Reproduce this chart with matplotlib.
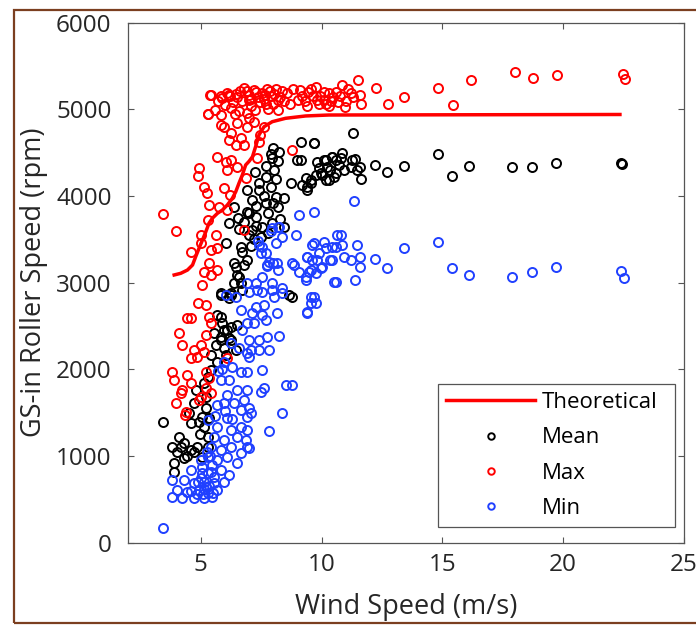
import matplotlib
matplotlib.use('Agg')
import matplotlib.pyplot as plt
from matplotlib.patches import Rectangle

plt.rcParams['font.family'] = ['Open Sans', 'DejaVu Sans']

# theoretical curve
theo_ws = [3.90, 4.17, 4.45, 4.66, 4.79, 4.93, 5.07, 5.21, 5.34, 5.48, 5.69, 5.90, 6.10, 6.31,
           6.45, 6.58, 6.72, 6.86, 7.00, 7.14, 7.27, 7.41, 7.62, 7.96, 8.51, 9.34, 10.3, 22.35]
theo_rpm = [3089, 3108, 3146, 3204, 3300, 3397, 3492, 3588, 3685, 3743, 3800, 3839, 3896, 3974,
            4050, 4146, 4242, 4358, 4400, 4453, 4569, 4704, 4799, 4857, 4896, 4923, 4934, 4940]

# mean speed
mean_ws = [3.42, 3.83, 3.90, 3.90, 4.10, 4.31, 4.31, 4.52, 4.59, 4.59, 4.72, 4.79, 4.86, 4.93,
           5.07, 5.14, 5.14, 5.21, 5.28, 5.28, 5.28, 5.34, 5.41, 5.41, 5.55, 5.62, 5.69, 5.69,
           5.83, 5.83, 5.83, 5.83, 5.83, 5.90, 5.96, 5.96, 6.03, 6.10, 6.17, 6.17, 6.24, 6.24,
           6.24, 6.24, 6.38, 6.38, 6.45, 6.45, 6.52, 6.52, 6.58, 6.65, 6.65, 6.72, 6.79, 6.03,
           6.17, 6.38, 6.93, 6.93, 6.93, 7.00, 7.14, 7.14, 7.27, 7.41, 7.55, 7.69, 7.69, 7.96,
           7.96, 8.10, 8.24, 8.44, 8.44, 8.65, 8.72, 8.79, 9.00, 9.13, 9.68, 6.55, 6.60, 6.70,
           6.80, 7.00, 7.10, 7.20, 7.25, 7.30, 7.30, 7.40, 7.50, 7.60, 7.70, 7.80, 7.80, 7.90,
           7.90, 8.00, 8.00, 8.05, 8.10, 8.20, 8.20, 8.30, 9.13, 9.20, 9.34, 9.41, 9.41, 9.55,
           9.55, 9.68, 9.75, 9.82, 9.89, 9.96, 10.03, 10.10, 10.17, 10.17, 10.24, 10.30, 10.37,
           10.44, 10.44, 10.51, 10.58, 10.58, 10.72, 10.79, 10.86, 10.92, 11.20, 11.27, 11.40,
           11.48, 11.61, 11.64, 11.30, 12.2, 12.7, 13.4, 14.8, 15.4, 16.1, 17.9, 18.7, 19.7,
           22.4, 22.45, 4.00, 4.20, 4.45, 4.70, 4.95, 5.05, 5.20]
mean_rpm = [1397, 1108, 917, 820, 1224, 1148, 975, 1494, 1378, 1070, 1609, 1762, 1108, 1397,
            993, 1840, 1339, 1685, 1916, 1224, 1108, 1436, 2166, 1993, 2416, 2281, 2627, 2089,
            2858, 2377, 2878, 2608, 2339, 2532, 2243, 2454, 2166, 2454, 2820, 2358, 2339, 2878,
            2858, 2493, 2993, 3224, 3185, 2224, 3089, 2512, 3069, 3415, 2993, 2916, 3204, 3454,
            3685, 3877, 4069, 3819, 3262, 3800, 3954, 3608, 3761, 4069, 3646, 4223, 3916, 4435,
            3685, 3992, 4511, 3973, 3646, 2858, 4146, 2839, 4415, 4626, 4615, 3750, 3620, 3350,
            3700, 3550, 3420, 3500, 4280, 3880, 3650, 4150, 3530, 4000, 4350, 3800, 3570, 4100,
            4490, 3920, 4550, 4300, 4200, 3870, 4400, 3730, 4415, 4127, 4204, 4069, 4107, 4146,
            4185, 4608, 4242, 4396, 4319, 4262, 4242, 4415, 4185, 4415, 4338, 4185, 4300, 4453,
            4453, 4223, 4415, 4262, 4358, 4435, 4492, 4300, 4338, 4415, 4430, 4300, 4331, 4193,
            4728, 4358, 4277, 4347, 4485, 4231, 4347, 4335, 4335, 4381, 4381, 4370,
            1050, 1100, 1000, 1050, 1250, 1450, 1550]

# maximum speed
max_ws = [3.42, 3.83, 3.90, 3.97, 3.97, 4.10, 4.17, 4.24, 4.24, 4.35, 4.38, 4.45, 4.45, 4.59,
          4.59, 4.59, 4.59, 4.72, 4.86, 4.89, 4.89, 4.93, 4.93, 5.00, 5.00, 5.00, 5.00, 5.07,
          5.14, 5.14, 5.14, 5.21, 5.21, 5.21, 5.21, 5.25, 5.28, 5.28, 5.34, 5.34, 5.34, 5.34,
          5.41, 5.41, 5.41, 5.41, 5.62, 5.66, 5.69, 5.69, 5.76, 5.83, 5.83, 5.96, 5.96, 6.03,
          6.10, 6.10, 6.10, 6.17, 6.17, 6.21, 6.24, 6.24, 6.45, 6.52, 6.52, 6.65, 6.79, 6.79,
          6.86, 6.93, 7.00, 7.20, 7.34, 7.41, 7.45, 7.60, 8.79, 5.28, 5.37, 5.41, 5.60, 5.70,
          5.83, 5.90, 6.00, 6.07, 6.17, 6.20, 6.25, 6.34, 6.40, 6.45, 6.50, 6.60, 6.62, 6.70,
          6.80, 6.90, 6.90, 6.99, 7.00, 7.10, 7.10, 7.20, 7.26, 7.30, 7.36, 7.45, 7.54, 7.60,
          7.65, 7.70, 7.73, 7.80, 7.85, 7.91, 8.00, 8.05, 8.10, 8.19, 8.19, 8.30, 8.37, 8.45,
          8.55, 8.70, 8.83, 9.01, 9.10, 9.20, 9.30, 9.38, 9.45, 9.57, 9.66, 9.75, 9.80, 9.90,
          9.94, 10.10, 10.12, 10.20, 10.30, 10.30, 10.40, 10.49, 10.60, 10.67, 10.75, 10.86,
          10.95, 11.00, 11.10, 11.22, 11.30, 11.50, 11.59, 11.62, 12.24, 12.73, 13.43, 14.82,
          15.42, 16.20, 18.0, 18.76, 19.73, 22.46, 22.55]
max_rpm = [3792, 1974, 1878, 3600, 1609, 2423, 1724, 2281, 1762, 1471, 1512, 1935, 2590, 2592,
           2128, 1840, 3358, 2224, 2147, 2762, 4231, 4319, 1647, 2281, 1685, 3550, 3454, 2973,
           2204, 4107, 3127, 2743, 2397, 1974, 1780, 4031, 4946, 3723, 2608, 1897, 3896, 3224,
           2532, 1724, 3377, 3089, 3550, 4453, 3397, 3146, 3877, 4934, 4819, 4799, 4089, 4396,
           4300, 3839, 2128, 4646, 5165, 4011, 4723, 4415, 4588, 4846, 4331, 4666, 4588, 3608,
           4204, 4792, 4900, 4850, 4435, 4626, 4700, 4790, 4531, 4946, 5168, 5165, 4990, 5100,
           5159, 5127, 5050, 5183, 5165, 5150, 5019, 5089, 4950, 5180, 5136, 4980, 5206, 5100,
           5240, 5206, 4960, 5112, 5170, 5042, 5120, 5220, 4996, 5200, 5136, 5080, 5183, 5120,
           5170, 5060, 5229, 5000, 5210, 5159, 5066, 5180, 5230, 5112, 4996, 5140, 5206, 5100,
           5183, 5060, 5229, 5112, 5220, 5159, 5100, 5042, 5200, 5229, 5159, 5253, 5112, 5060,
           5159, 5200, 5112, 5060, 5183, 5040, 5100, 5136, 5200, 5089, 5150, 5276, 5029, 5100,
           5230, 5183, 5136, 5336, 5168, 5066, 5243, 5057, 5136, 5243, 5052, 5336, 5430, 5365,
           5393, 5402, 5355]

# minimum speed
min_ws = [3.42, 3.83, 3.83, 4.03, 4.24, 4.31, 4.45, 4.59, 4.60, 4.72, 4.72, 4.85, 4.90, 4.93,
          5.00, 5.00, 5.05, 5.07, 5.10, 5.14, 5.14, 5.15, 5.20, 5.25, 5.28, 5.28, 5.28, 5.30,
          5.35, 5.40, 5.41, 5.41, 5.45, 5.48, 5.50, 5.55, 5.55, 5.55, 5.60, 5.69, 5.69, 5.69,
          5.69, 5.70, 5.83, 5.83, 5.83, 5.90, 5.96, 5.96, 5.96, 5.96, 6.00, 6.03, 6.10, 6.10,
          6.10, 6.17, 6.17, 6.24, 6.24, 6.24, 6.30, 6.31, 6.38, 6.45, 6.52, 6.52, 6.52, 6.58,
          6.65, 6.65, 6.65, 6.65, 6.65, 6.72, 6.79, 6.86, 6.93, 6.93, 6.93, 6.93, 6.93, 6.93,
          6.93, 6.93, 7.00, 7.00, 7.00, 7.00, 7.00, 7.07, 7.07, 7.14, 7.20, 7.27, 7.27, 7.34,
          7.36, 7.41, 7.41, 7.41, 7.48, 7.48, 7.54, 7.55, 7.55, 7.55, 7.55, 7.62, 7.62, 7.69,
          7.69, 7.73, 7.76, 7.76, 7.82, 7.82, 7.82, 7.91, 7.96, 7.96, 7.96, 8.00, 8.03, 8.10,
          8.17, 8.17, 8.19, 8.19, 8.24, 8.24, 8.37, 8.38, 8.38, 8.38, 8.51, 8.79, 8.79, 8.86,
          8.93, 9.06, 9.06, 9.34, 9.34, 9.41, 9.41, 9.41, 9.41, 9.48, 9.55, 9.55, 9.55, 9.62,
          9.62, 9.68, 9.68, 9.68, 9.75, 9.75, 9.82, 9.89, 9.96, 10.03, 10.10, 10.17, 10.37,
          10.44, 10.44, 10.51, 10.58, 10.58, 10.65, 10.79, 10.86, 10.92, 11.20, 11.33, 11.40,
          11.48, 11.58, 11.61, 12.2, 12.7, 13.4, 14.8, 15.4, 16.1, 17.9, 18.7, 19.7, 22.4, 22.5]
min_rpm = [167, 724, 532, 609, 513, 724, 589, 840, 600, 686, 513, 560, 700, 609,
           750, 950, 800, 878, 560, 705, 513, 620, 640, 1050, 1416, 993, 571, 800,
           660, 1000, 820, 1108, 900, 532, 580, 1224, 686, 760, 1460, 1589, 1339, 955,
           609, 1980, 1878, 1070, 840, 2000, 2089, 1609, 1186, 705, 1520, 2858, 1436, 993,
           1700, 1878, 782, 2301, 1301, 1108, 1430, 2031, 1609, 2839, 1762, 1224, 917, 2243,
           2685, 1974, 1532, 1339, 1032, 2454, 1647, 1186, 2532, 2186, 1974, 1762, 1455, 1108,
           1301, 2993, 2896, 2339, 2147, 1551, 1090, 2224, 1494, 2647, 2532, 2723, 2993, 2916,
           3478, 3435, 2339, 2224, 3339, 1743, 3408, 2896, 2627, 3069, 1993, 2743, 1782, 2570,
           3339, 3198, 3204, 2377, 3242, 2224, 1293, 3596, 3627, 2916, 2993, 3222, 2839, 3454,
           3224, 2654, 3641, 3152, 3646, 2385, 3525, 2878, 2935, 1494, 1820, 3224, 1820, 3204,
           3550, 3781, 3127, 3031, 3069, 3300, 2654, 2666, 3300, 3127, 2839, 2762, 3146, 3262,
           3435, 3819, 3454, 2839, 2762, 3108, 3262, 3339, 3166, 3185, 3473, 3397, 3262,
           3415, 3262, 3011, 3415, 3011, 3550, 3550, 3435, 3300, 3262, 3942, 3031,
           3435, 3185, 3300, 3271, 3167, 3398, 3468, 3167, 3087, 3063, 3121, 3179, 3133, 3052]

fig = plt.figure(figsize=(6.96, 6.31), dpi=100)
ax = fig.add_axes([0.1843, 0.1398, 0.7984, 0.8244])

ax.plot(theo_ws, theo_rpm, color='#ff0000', lw=2.5, label='Theoretical', zorder=2)
mk = dict(marker='o', linestyle='none', mfc='none', ms=6.5, mew=1.4)
ax.plot(mean_ws, mean_rpm, mec='black', label='Mean', zorder=3, **mk)
ax.plot(max_ws, max_rpm, mec='#ff0000', label='Max', zorder=3, **mk)
ax.plot(min_ws, min_rpm, mec='#2040ff', label='Min', zorder=3, **mk)

ax.set_xlim(2, 25)
ax.set_ylim(0, 6000)
ax.set_xticks([5, 10, 15, 20, 25])
ax.set_yticks(range(0, 6001, 1000))
ax.tick_params(direction='in', length=4.5, width=0.8, top=True, right=True,
               color='#555555', labelcolor='#262626', labelsize=17.5)
ax.tick_params(axis='x', pad=7)
ax.tick_params(axis='y', pad=12)
for s in ax.spines.values():
    s.set_color('#555555')
    s.set_linewidth(0.9)

ax.set_xlabel('Wind Speed (m/s)', fontsize=19.5, color='#262626', labelpad=12)
ax.set_ylabel('GS-in Roller Speed (rpm)', fontsize=19.5, color='#262626', labelpad=6)

leg = ax.legend(loc='lower left', bbox_to_anchor=(0.558, 0.031, 0.426, 0.279),
                mode='expand', fontsize=16, numpoints=1, markerscale=0.72,
                handlelength=4.0, handletextpad=0.3, labelspacing=0.64, borderpad=0.35,
                fancybox=False, framealpha=1, borderaxespad=0)
leg.get_frame().set_edgecolor('#555555')
leg.get_frame().set_linewidth(0.9)

fig.patches.append(Rectangle((0.0201, 0.0127), 1.2, 0.9713, transform=fig.transFigure,
                             fill=False, edgecolor='#7b3f20', linewidth=1.6))

fig.savefig('out.png', dpi=100)
